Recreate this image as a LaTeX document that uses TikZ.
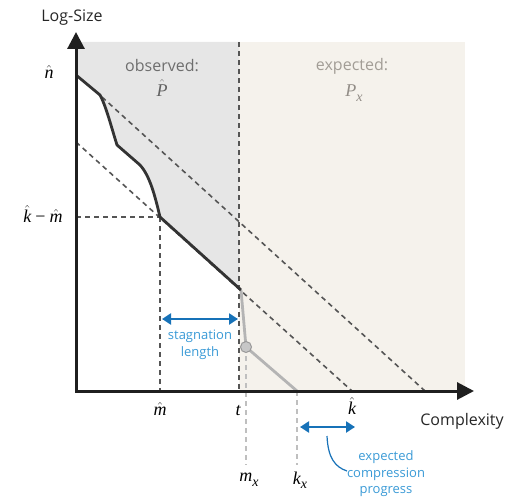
\documentclass[tikz,border=0pt]{standalone}
\usepackage{amsmath}
\usepackage{fontspec}
\setmainfont{Open Sans}
\newfontfamily\lsf{Liberation Serif}
\newcommand{\lv}[1]{\text{\lsf\itshape #1}}
\newcommand{\lsub}[2]{{\lsf\itshape #1\raisebox{-4.5pt}{\fontsize{14}{14}\selectfont #2}}}
\usetikzlibrary{arrows.meta}
\definecolor{obsgray}{HTML}{E6E6E6}
\definecolor{expbeige}{HTML}{F5F2EC}
\definecolor{darkline}{HTML}{333333}
\definecolor{dashgray}{HTML}{555555}
\definecolor{lightline}{HTML}{B4B4B4}
\definecolor{arrowblue}{HTML}{1772B8}
\definecolor{textblue}{HTML}{3A9AD6}
\definecolor{obstext}{HTML}{6E6E6E}
\definecolor{exptext}{HTML}{A29D96}
\tikzset{
  axis/.style={line width=3pt, draw=black!88, line join=miter, -{Triangle[width=17pt,length=17pt]}},
  dashln/.style={draw=dashgray, line width=1.6pt, dash pattern=on 5pt off 4pt},
  lightdash/.style={draw=lightline!85, line width=1.6pt, dash pattern=on 5pt off 4pt},
  curveln/.style={draw=darkline, line width=2.8pt, line join=round},
  expln/.style={draw=lightline, line width=2.8pt, line join=round},
  mathlbl/.style={font=\fontsize{18}{20}\selectfont, text=black, inner sep=1pt},
  sanslbl/.style={font=\fontsize{16}{19}\selectfont, text=black!85},
  bluelbl/.style={font=\fontsize{13}{16.5}\selectfont, text=textblue, align=center},
  bluearrow/.style={draw=arrowblue, line width=2.2pt, {Triangle[width=11pt,length=9pt]}-{Triangle[width=11pt,length=9pt]}},
}
\begin{document}
\begin{tikzpicture}[x=1pt,y=-1pt]
\useasboundingbox (0,0) rectangle (505,497);
% regions
\fill[expbeige] (239,42) rectangle (465,391);
\begin{scope}
  \clip (76,42) rectangle (239,391);
  \fill[obsgray] (76,42) -- (76,75) -- (100,95) .. controls (106,106) and (111,126) .. (117,145)
     -- (140,165) .. controls (150,176) and (155,196) .. (160,217) -- (241,290) -- (241,42) -- cycle;
\end{scope}
% coordinates
\coordinate (nhat) at (76,75);
\coordinate (p1) at (100,95);
\coordinate (p2) at (117,145);
\coordinate (p3) at (140,165);
\coordinate (km) at (160,217);
\coordinate (tc) at (241,290);
\coordinate (mx) at (246,347);
\coordinate (kx) at (297,391);
\coordinate (lowstart) at (76,142);
\coordinate (khat) at (352,391);
\coordinate (upstart) at (102,97);
\coordinate (upend) at (425,391);
\coordinate (ttop) at (239,42);
\coordinate (tbot) at (239,391);
\coordinate (mhbot) at (160,391);
\coordinate (kmleft) at (76,217);
% dashed lines
\draw[dashln] (ttop) -- (tbot);
\draw[dashln] (km) -- (mhbot);
\draw[dashln] (kmleft) -- (km);
\draw[dashln] (lowstart) -- (khat);
\draw[dashln] (upstart) -- (upend);
\draw[lightdash] (mx) -- (246,465);
\draw[lightdash] (kx) -- (297,465);
% expected curve
\draw[expln] (tc) -- (mx) -- (kx);
\node[circle, draw=black!40, fill=black!22, line width=1pt, minimum size=11pt, inner sep=0pt] (mxc) at (mx) {};
% observed curve
\draw[curveln] (nhat) -- (p1) .. controls (106,106) and (111,126) .. (p2)
   -- (p3) .. controls (150,176) and (155,196) .. (km) -- (tc);
% axes
\coordinate (ytip) at (76,32);
\coordinate (orig) at (76,391);
\coordinate (xtip) at (474,391);
\draw[axis] (orig) -- (ytip);
\draw[axis] (orig) -- (xtip);
\draw[black!88, line width=3pt] (76,392.5) -- (76,389);
% axis labels
\node[sanslbl] (ylab) at (72,18) {Log-Size};
\node[sanslbl] (xlab) at (462,421) {Complexity};
\node[mathlbl] (nl) at (49,72) {$\hat{\lv{n}}$};
\node[mathlbl] (kml) at (43,214) {$\hat{\lv{k}}$\hspace{4pt}{\lsf −}\hspace{4pt}$\hat{\lv{m}}$};
\node[mathlbl] (ml) at (160,409) {$\hat{\lv{m}}$};
\node[mathlbl] (tl) at (238,411) {\lv{t}};
\node[mathlbl] (kl) at (352,406) {$\hat{\lv{k}}$};
\node[mathlbl] (mxl) at (249,480) {\lsub{m}{x}};
\node[mathlbl] (kxl) at (300,480) {\lsub{k}{x}};
% region labels
\node[sanslbl, text=obstext] (obs) at (162,66) {observed:};
\node[mathlbl, text=black!62] (ph) at (162,88) {$\hat{\lv{P}}$};
\node[sanslbl, text=exptext] (exp) at (352,66) {expected:};
\node[mathlbl, text=exptext!90!black] (px) at (354,93) {\lsub{P}{x}};
% blue annotations
\coordinate (sa) at (162,319);
\coordinate (sb) at (238,319);
\draw[bluearrow] (sa) -- (sb);
\node[bluelbl] (stag) at (200,345) {stagnation\\length};
\coordinate (ea) at (300,427);
\coordinate (eb) at (355,427);
\draw[bluearrow] (ea) -- (eb);
\node[bluelbl] (ecp) at (386,474) {expected\\compression\\progress};
\coordinate (cs) at (327,436);
\draw[arrowblue, line width=1.2pt] (cs) .. controls (328,458) and (335,467) .. (347,471);
\end{tikzpicture}
\end{document}
